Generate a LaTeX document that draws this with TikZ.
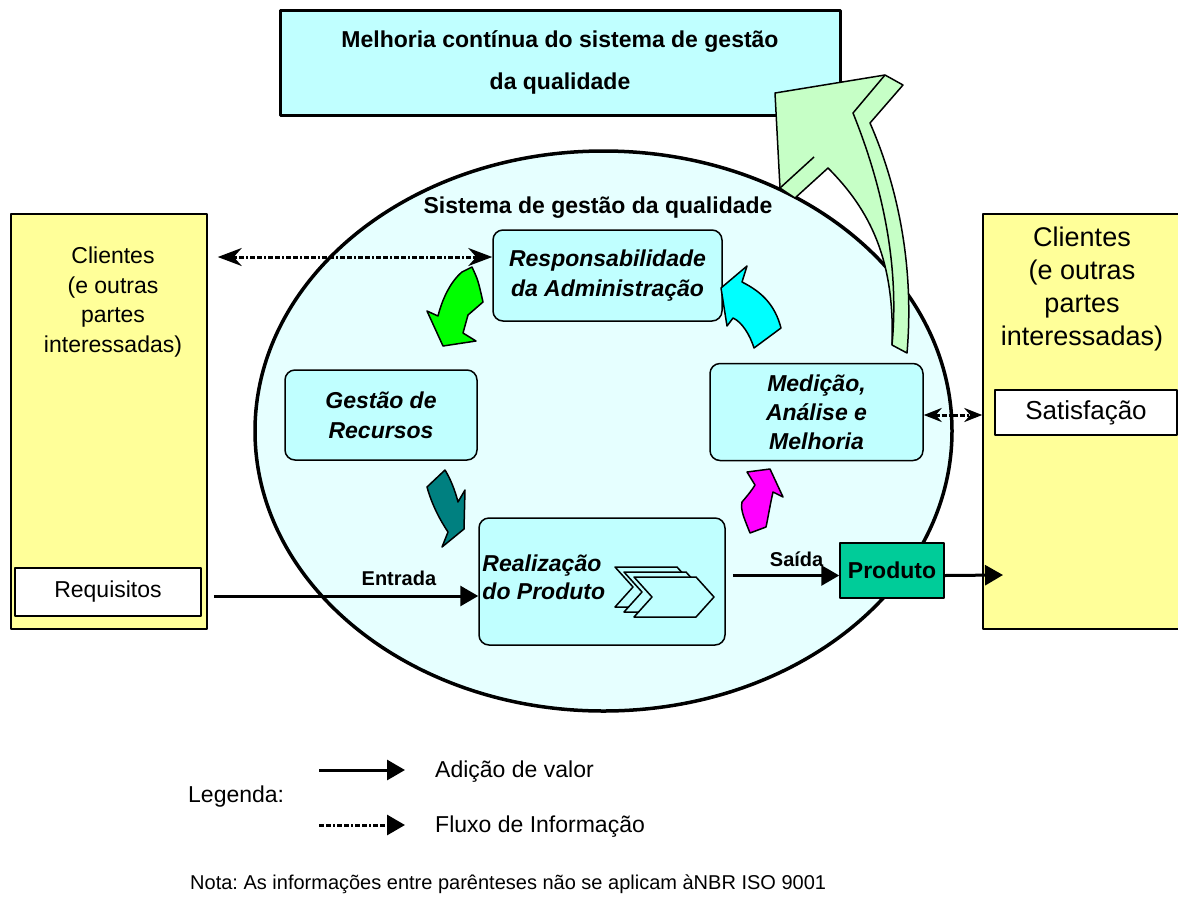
\documentclass[tikz,border=0pt]{standalone}
\usepackage{fontspec}
\setmainfont{Liberation Sans}
\usepackage{tikz}
\usepackage{xcolor}
\usetikzlibrary{arrows.meta}
\frenchspacing

\definecolor{boxCyan}{HTML}{C0FFFF}
\definecolor{ellCyan}{HTML}{E6FFFF}
\definecolor{clientYellow}{HTML}{FFFF99}
\definecolor{prodGreen}{HTML}{00CC99}
\definecolor{bigGreen}{HTML}{C6FFC6}
\definecolor{tealArrow}{HTML}{008080}
\definecolor{greenArrow}{HTML}{00FF00}
\definecolor{cyanArrow}{HTML}{00FFFF}
\definecolor{magentaArrow}{HTML}{FF00FF}

\begin{document}
\begin{tikzpicture}[x=1pt, y=-1pt, line join=round,
        every node/.style={inner sep=0pt}]
        \tikzstyle{procStyle} = [draw=black, line width=1.5pt, fill=boxCyan, rounded corners=10pt,
            align=center, font=\bfseries\itshape\fontsize{23}{30}\selectfont]
        \tikzstyle{clientStyle} = [draw=black, line width=1.5pt, fill=clientYellow]
        \tikzstyle{labelStyle} = [draw=black, line width=1.5pt, fill=white, font=\fontsize{23}{28}\selectfont]
        \tikzstyle{valueEdge} = [draw=black, line width=3pt, -{Triangle[length=18pt,width=20pt]}]
        \tikzstyle{infoEdge} = [draw=black, line width=3pt,
            dash pattern=on 5pt off 2pt on 5pt off 2pt on 2pt off 2pt]
        \tikzstyle{blockArrow} = [draw=black, line width=1.5pt]
        \clip (0,0) rectangle (1178,898);
        \fill[white] (0,0) rectangle (1178,898);

        % melhoria continua
        \node[draw=black, line width=3pt, fill=boxCyan, minimum width=560pt, minimum height=105pt,
            align=center, font=\bfseries\fontsize{23}{42}\selectfont] (melh) at (560,62.5)
            {Melhoria contínua do sistema de gestão\\da qualidade};

        % sistema
        \draw[line width=3.5pt, fill=ellCyan] (603.5,431) ellipse [x radius=348.5pt, y radius=280pt];
        \node[font=\bfseries\fontsize{23}{28}\selectfont] (sgq) at (598,208) {Sistema de gestão da qualidade};

        % clientes
        \node[clientStyle, minimum width=196pt, minimum height=415pt] (cliL) at (109,421.5) {};
        \node[align=center, font=\fontsize{23}{29.5}\selectfont] (cliLTxt) at (113,302)
            {Clientes\\(e outras\\partes\\interessadas)};
        \node[labelStyle, minimum width=186pt, minimum height=48pt] (req) at (108,592) {Requisitos};
        \node[clientStyle, minimum width=207pt, minimum height=415pt] (cliR) at (1086.5,421.5) {};
        \node[align=center, font=\fontsize{27}{33}\selectfont] (cliRTxt) at (1082,289.5)
            {Clientes\\(e outras\\partes\\interessadas)};
        \node[labelStyle, minimum width=182pt, minimum height=45pt, font=\fontsize{26}{30}\selectfont]
            (sat) at (1086,412.5) {Satisfação};

        % processos
        \node[procStyle, minimum width=229pt, minimum height=91pt] (resp) at (607.5,275.5)
            {Responsabilidade\\da Administração};
        \node[procStyle, minimum width=192pt, minimum height=90pt] (gest) at (381,415)
            {Gestão de\\Recursos};
        \node[procStyle, minimum width=213pt, minimum height=97pt, font=\bfseries\itshape\fontsize{23}{29}\selectfont]
            (med) at (816.5,412) {Medição,\\Análise e\\Melhoria};
        \node[procStyle, minimum width=246pt, minimum height=127pt] (real) at (602,581.5) {};
        \node[anchor=west, align=left, font=\bfseries\itshape\fontsize{23}{28}\selectfont] (realTxt)
            at ([xshift=4pt, yshift=4.5pt]real.west) {Realização\\do Produto};
        \foreach \dx/\dy in {0/0, 9/5, 19/10}
            \filldraw[draw=black, line width=1.5pt, fill=boxCyan] (615+\dx,567+\dy) -- ++(62,0)
                -- ++(18,20) -- ++(-18,20) -- ++(-62,0) -- ++(18,-20) -- cycle;
        \node[draw=black, line width=1.5pt, fill=prodGreen, minimum width=104pt, minimum height=55pt,
            font=\bfseries\fontsize{23}{28}\selectfont] (prod) at (892,570.5) {Produto};

        % fluxos
        \coordinate (saidaEnd) at (1003,575);
        \draw[valueEdge] ([xshift=6pt, yshift=-4pt]cliL.east |- req.east) -- ([yshift=-4pt]real.west |- req.east)
            node[pos=0.7, above=9pt, font=\bfseries\fontsize{20}{24}\selectfont] (entr) {Entrada};
        \draw[valueEdge] ([xshift=7pt, yshift=-5pt]real.east |- prod.west) -- ([yshift=-5pt]prod.west)
            node[pos=0.6, above=7pt, font=\bfseries\fontsize{20}{24}\selectfont] (said) {Saída};
        \draw[valueEdge] ([yshift=-5pt]prod.east) -- (saidaEnd);
        \draw[infoEdge, {Stealth[length=24pt,width=18pt,inset=8pt]}-{Stealth[length=24pt,width=18pt,inset=8pt]}]
            ([xshift=10pt, yshift=18.5pt]cliL.east |- resp.west) -- ([yshift=18.5pt]resp.west);
        \draw[infoEdge, {Stealth[length=18pt,width=14pt,inset=6pt]}-{Stealth[length=18pt,width=14pt,inset=6pt]}]
            ([yshift=-3pt]med.east) -- ([yshift=-3pt]cliR.west |- med.east);

        % setas do ciclo
        \filldraw[blockArrow, fill=greenArrow] (462,272) -- (472,267) .. controls (478,280) .. (483,302)
            -- (468,315) -- (463,333) -- (476,341) -- (443,346) -- (427,311) -- (438,316)
            .. controls (442,300) and (450,282) .. cycle;
        \filldraw[blockArrow, fill=tealArrow] (445,470) -- (427,487) .. controls (432,505) and (440,520) .. (448,532)
            -- (442,547) -- (464,529) -- (465,490) -- (458,502) .. controls (455,490) and (450,478) .. cycle;
        \filldraw[blockArrow, fill=magentaArrow] (770,469) -- (783,497) -- (773,492)
            .. controls (770,505) and (768,518) .. (766,527) -- (750,533)
            .. controls (745,520) and (740,510) .. (742,502) .. controls (748,495) and (752,490) .. (755,485)
            -- (747,472) -- cycle;
        \filldraw[blockArrow, fill=cyanArrow] (747,266) -- (742,282) .. controls (762,292) and (775,305) .. (781,328)
            -- (754,348) .. controls (750,335) and (742,322) .. (733,318) -- (727,326) -- (721,288) -- cycle;

        % melhoria
        \filldraw[blockArrow, fill=bigGreen] (775,93) -- (885,75) -- (903,85) -- (870,123)
            .. controls (895,180) and (915,260) .. (907,353) -- (892,345)
            .. controls (895,260) and (870,210) .. (828,168) -- (795,198) -- (780,188) -- cycle;
        \draw[blockArrow] (885,75) -- (853,113) .. controls (880,180) and (900,260) .. (892,345);
        \draw[blockArrow] (780,188) -- (814,157);

        % legenda
        \coordinate (legA1) at (319,770);
        \coordinate (legA2) at (405,770);
        \coordinate (legB1) at (319,825);
        \coordinate (legB2) at (405,825);
        \draw[valueEdge] (legA1) -- (legA2);
        \draw[infoEdge, -{Triangle[length=18pt,width=20pt]}] (legB1) -- (legB2);
        \node[anchor=west, font=\fontsize{23}{28}\selectfont] (leg) at (188,797) {Legenda:};
        \node[anchor=west, font=\fontsize{23}{28}\selectfont] (legA) at (435,772) {Adição de valor};
        \node[anchor=west, font=\fontsize{23}{28}\selectfont] (legB) at (435,827) {Fluxo de Informação};
        \node[anchor=west, font=\fontsize{20}{24}\selectfont] (nota) at (190,884)
            {Nota: As informações entre parênteses não se aplicam àNBR ISO 9001};
    \end{tikzpicture}
\end{document}
